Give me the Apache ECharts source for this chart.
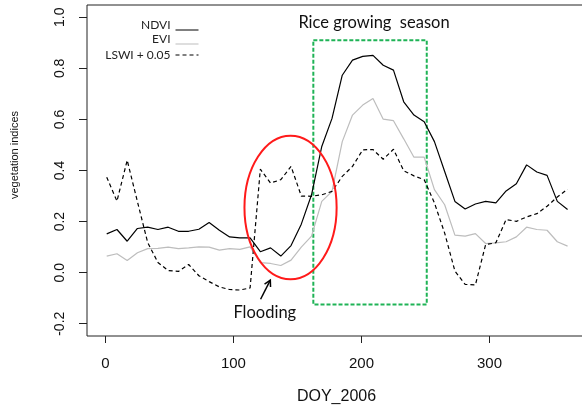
<!DOCTYPE html>
<html>
<head>
<meta charset="utf-8">
<script src="https://cdn.jsdelivr.net/npm/echarts@6/dist/echarts.min.js"></script>
<style>
  html, body { margin: 0; padding: 0; background: #fff; }
  #main { width: 582px; height: 405px; }
</style>
</head>
<body>
<div id="main"></div>
<script>
// 8-day MODIS composites, DOY 2006
var doy = [1, 9, 17, 25, 33, 41, 49, 57, 65, 73, 81, 89, 97, 105, 113, 121,
  129, 137, 145, 153, 161, 169, 177, 185, 193, 201, 209, 217, 225, 233, 241,
  249, 257, 265, 273, 281, 289, 297, 305, 313, 321, 329, 337, 345, 353, 361];

var ndvi = [0.152, 0.169, 0.123, 0.173, 0.178, 0.169, 0.178, 0.162, 0.162, 0.170,
  0.196, 0.166, 0.140, 0.136, 0.136, 0.082, 0.097, 0.065, 0.106, 0.190,
  0.305, 0.494, 0.604, 0.773, 0.832, 0.847, 0.851, 0.812, 0.793, 0.669,
  0.617, 0.591, 0.513, 0.396, 0.279, 0.249, 0.269, 0.279, 0.273, 0.320,
  0.348, 0.422, 0.394, 0.381, 0.279, 0.247];

var evi = [0.065, 0.074, 0.048, 0.078, 0.094, 0.095, 0.100, 0.094, 0.097, 0.101,
  0.100, 0.088, 0.094, 0.091, 0.101, 0.039, 0.036, 0.028, 0.049, 0.100,
  0.143, 0.279, 0.318, 0.513, 0.617, 0.656, 0.682, 0.601, 0.595, 0.524,
  0.452, 0.452, 0.325, 0.266, 0.147, 0.143, 0.153, 0.114, 0.117, 0.121,
  0.140, 0.178, 0.169, 0.166, 0.121, 0.104];

// already shifted by +0.05 as in the legend
var lswiPlus005 = [0.374, 0.280, 0.440, 0.278, 0.118, 0.040, 0.008, 0.005, 0.032, -0.012,
  -0.035, -0.056, -0.066, -0.068, -0.060, 0.405, 0.351, 0.364, 0.416, 0.300,
  0.299, 0.305, 0.318, 0.377, 0.416, 0.481, 0.482, 0.444, 0.483, 0.399,
  0.379, 0.364, 0.273, 0.155, 0.006, -0.046, -0.048, 0.110, 0.117, 0.208,
  0.201, 0.218, 0.231, 0.260, 0.296, 0.327];

var seriesNames = ['NDVI', 'EVI', 'LSWI + 0.05'];
var xTicks = [0, 100, 200, 300];
var yTicks = [-0.2, 0, 0.2, 0.4, 0.6, 0.8, 1.0];

// annotation spots (data units)
var riceSeason = { from: 162.4, to: 251, low: -0.125, high: 0.91 };
var floodZone = { doy: 144.6, val: 0.255, rDoy: 36, rVal: 0.281 };

function pairs(ys) {
  return doy.map(function (d, i) { return [d, ys[i]]; });
}

var chart = echarts.init(document.getElementById('main'));

// one legend per entry so each one is right aligned like in R
var legends = seriesNames.map(function (n, i) {
  var lifted = i < 2;  // NDVI/EVI lines sit on the text baseline
  return {
    data: [n],
    right: 383,
    top: [19, 33, 49][i],
    align: 'right',
    orient: 'horizontal',
    padding: 0,
    itemWidth: 23,
    itemHeight: 10,
    selectedMode: false,
    itemStyle: { opacity: 0 },
    lineStyle: { width: 1 },
    formatter: lifted ? '{t|{name}}' : '{name}',
    textStyle: {
      fontFamily: 'Lato', fontSize: 12, color: '#222',
      rich: { t: { fontFamily: 'Lato', fontSize: 12, color: '#222', lineHeight: 22, verticalAlign: 'top' } }
    }
  };
});

chart.setOption({
  animation: false,
  backgroundColor: '#fff',
  legend: legends,
  grid: {
    left: 87, top: 5, width: 499, height: 331,
    show: true, borderColor: '#222', borderWidth: 1,
    outerBoundsMode: 'none'
  },
  xAxis: {
    type: 'value',
    min: -14.4, max: 375.4,
    name: 'DOY_2006',
    nameLocation: 'middle',
    nameGap: 53,
    nameTextStyle: { fontFamily: 'Liberation Sans', fontSize: 16, color: '#111' },
    axisLine: { show: false, onZero: false },
    splitLine: { show: false },
    axisTick: { show: true, customValues: xTicks, length: 7, lineStyle: { color: '#222' } },
    axisLabel: {
      customValues: xTicks, margin: 20,
      fontFamily: 'Liberation Sans', fontSize: 15, color: '#111'
    }
  },
  yAxis: {
    type: 'value',
    min: -0.248, max: 1.048,
    axisLine: { show: false, onZero: false },
    splitLine: { show: false },
    axisTick: { show: true, customValues: yTicks, length: 8, lineStyle: { color: '#222' } },
    axisLabel: {
      customValues: yTicks, rotate: 90, margin: 20,
      fontFamily: 'Liberation Sans', fontSize: 14, color: '#111',
      formatter: function (v) { return v.toFixed(1); }
    }
  },
  series: [
    {
      name: 'NDVI', type: 'line', data: pairs(ndvi),
      symbol: 'none', lineStyle: { color: '#000', width: 1.2 },
      itemStyle: { color: '#000' },
      markArea: {
        silent: true,
        itemStyle: {
          color: 'rgba(0,0,0,0)', borderColor: '#1fb356',
          borderWidth: 2, borderType: [4, 2]
        },
        data: [[
          { coord: [riceSeason.from, riceSeason.high] },
          { coord: [riceSeason.to, riceSeason.low] }
        ]]
      }
    },
    {
      name: 'EVI', type: 'line', data: pairs(evi),
      symbol: 'none', lineStyle: { color: '#bdbdbd', width: 1.2 },
      itemStyle: { color: '#bdbdbd' }
    },
    {
      name: 'LSWI + 0.05', type: 'line', data: pairs(lswiPlus005),
      symbol: 'none', lineStyle: { color: '#000', width: 1.2, type: [4, 3] },
      itemStyle: { color: '#000' }
    }
  ]
});

// annotations placed through the grid's own scales
function px(x, y) { return chart.convertToPixel({ gridIndex: 0 }, [x, y]); }

var c = px(floodZone.doy, floodZone.val);
var e = px(floodZone.doy + floodZone.rDoy, floodZone.val + floodZone.rVal);
var tail = px(121.2, -0.104), head = px(128.8, -0.029);
var ang = Math.atan2(head[1] - tail[1], head[0] - tail[0]);
var hl = 7;
var wing1 = [head[0] - hl * Math.cos(ang - 0.5), head[1] - hl * Math.sin(ang - 0.5)];
var wing2 = [head[0] - hl * Math.cos(ang + 0.5), head[1] - hl * Math.sin(ang + 0.5)];
var riceLbl = px(209.8, 0.977);
var floodLbl = px(124.5, -0.155);

chart.setOption({
  graphic: [
    {
      type: 'ellipse', silent: true, z: 10,
      shape: { cx: c[0], cy: c[1], rx: e[0] - c[0], ry: c[1] - e[1] },
      style: { fill: 'none', stroke: '#ff1a1a', lineWidth: 2 }
    },
    {
      type: 'line', silent: true, z: 10,
      shape: { x1: tail[0], y1: tail[1], x2: head[0], y2: head[1] },
      style: { stroke: '#000', lineWidth: 1.5 }
    },
    {
      type: 'polyline', silent: true, z: 10,
      shape: { points: [wing1, head, wing2] },
      style: { stroke: '#000', lineWidth: 1.5, fill: 'none' }
    },
    {
      type: 'text', silent: true, z: 10, x: riceLbl[0], y: riceLbl[1],
      style: {
        text: 'Rice growing  season', fontFamily: 'Lato', fontSize: 16.5,
        fill: '#111', align: 'center', verticalAlign: 'middle'
      }
    },
    {
      type: 'text', silent: true, z: 10, x: floodLbl[0], y: floodLbl[1],
      style: {
        text: 'Flooding', fontFamily: 'Lato', fontSize: 16.5,
        fill: '#111', align: 'center', verticalAlign: 'middle'
      }
    },
    {
      type: 'text', silent: true, x: 15, y: 155, rotation: Math.PI / 2,
      style: {
        text: 'vegetation indices', fontFamily: 'Liberation Sans', fontSize: 11,
        fill: '#111', align: 'center', verticalAlign: 'middle'
      }
    }
  ]
});
</script>
</body>
</html>
